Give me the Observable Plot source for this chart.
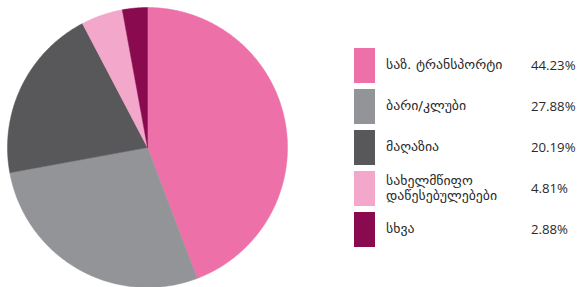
<!DOCTYPE html>
<html>
<head>
<meta charset="utf-8">
<script src="https://cdn.jsdelivr.net/npm/d3@7"></script>
<script src="https://cdn.jsdelivr.net/npm/@observablehq/plot@0.6"></script>
<style>
  html, body { margin: 0; padding: 0; background: #fff; }
  #wrap { position: relative; width: 580px; height: 287px; overflow: hidden; }
  #pie { position: absolute; left: 0; top: 0; }
  .sw { position: absolute; left: 354px; width: 21px; height: 35px; }
  .lab { position: absolute; left: 386px; font-family: "DejaVu Sans", sans-serif; font-size: 12px; color: #2a2a2a; line-height: 15px; display: flex; align-items: center; height: 35px; transform: scaleX(1.15); transform-origin: left center; white-space: nowrap; }
  .val { position: absolute; left: 531px; font-family: "Open Sans", sans-serif; font-size: 12px; color: #2a2a2a; height: 35px; display: flex; align-items: center; white-space: nowrap; transform: scaleX(1.1); transform-origin: left center; }
</style>
</head>
<body>
<div id="wrap"><div id="pie"></div></div>
<script>
const categories = ["საზ. ტრანსპორტი", "ბარი/კლუბი", "მაღაზია", "სახელმწიფო დაწესებულებები", "სხვა"];
const labelLines = [["საზ. ტრანსპორტი"], ["ბარი/კლუბი"], ["მაღაზია"], ["სახელმწიფო", "დაწესებულებები"], ["სხვა"]];
const values = [44.23, 27.88, 20.19, 4.81, 2.88];
const valueLabels = ["44.23%", "27.88%", "20.19%", "4.81%", "2.88%"];
const colors = ["#ee70a8", "#929497", "#58585a", "#f3a8cb", "#8a0a4f"];

// Build slice outlines with d3.pie (angles), drawn through Plot's x/y scales
const arcs = d3.pie().sort(null).value(d => d)(values);
const pts = [];
arcs.forEach((a, i) => {
  const cat = categories[i];
  pts.push({cat, x: 0, y: 0});
  const n = Math.max(2, Math.ceil((a.endAngle - a.startAngle) / 0.01));
  for (let k = 0; k <= n; k++) {
    const t = a.startAngle + (a.endAngle - a.startAngle) * k / n;
    pts.push({cat, x: Math.sin(t), y: Math.cos(t)});
  }
  pts.push({cat, x: 0, y: 0});
});

const chart = Plot.plot({
  width: 300,
  height: 287,
  marginLeft: 7,
  marginRight: 13,
  marginTop: 7,
  marginBottom: 0,
  x: {domain: [-1, 1], axis: null},
  y: {domain: [-1, 1], axis: null},
  color: {domain: categories, range: colors},
  marks: [
    Plot.line(pts, {x: "x", y: "y", z: "cat", fill: "cat", stroke: "cat", strokeWidth: 0.5, curve: "linear"})
  ]
});
document.getElementById("pie").appendChild(chart);

const wrap = document.getElementById("wrap");
categories.forEach((c, i) => {
  const top = 48 + i * 41;
  const sw = document.createElement("div");
  sw.className = "sw";
  sw.style.top = top + "px";
  sw.style.background = colors[i];
  wrap.appendChild(sw);
  const lab = document.createElement("div");
  lab.className = "lab";
  lab.style.top = top + "px";
  lab.innerHTML = "<div>" + labelLines[i].join("<br>") + "</div>";
  wrap.appendChild(lab);
  const val = document.createElement("div");
  val.className = "val";
  val.style.top = top + "px";
  val.textContent = valueLabels[i];
  wrap.appendChild(val);
});
</script>
</body>
</html>
